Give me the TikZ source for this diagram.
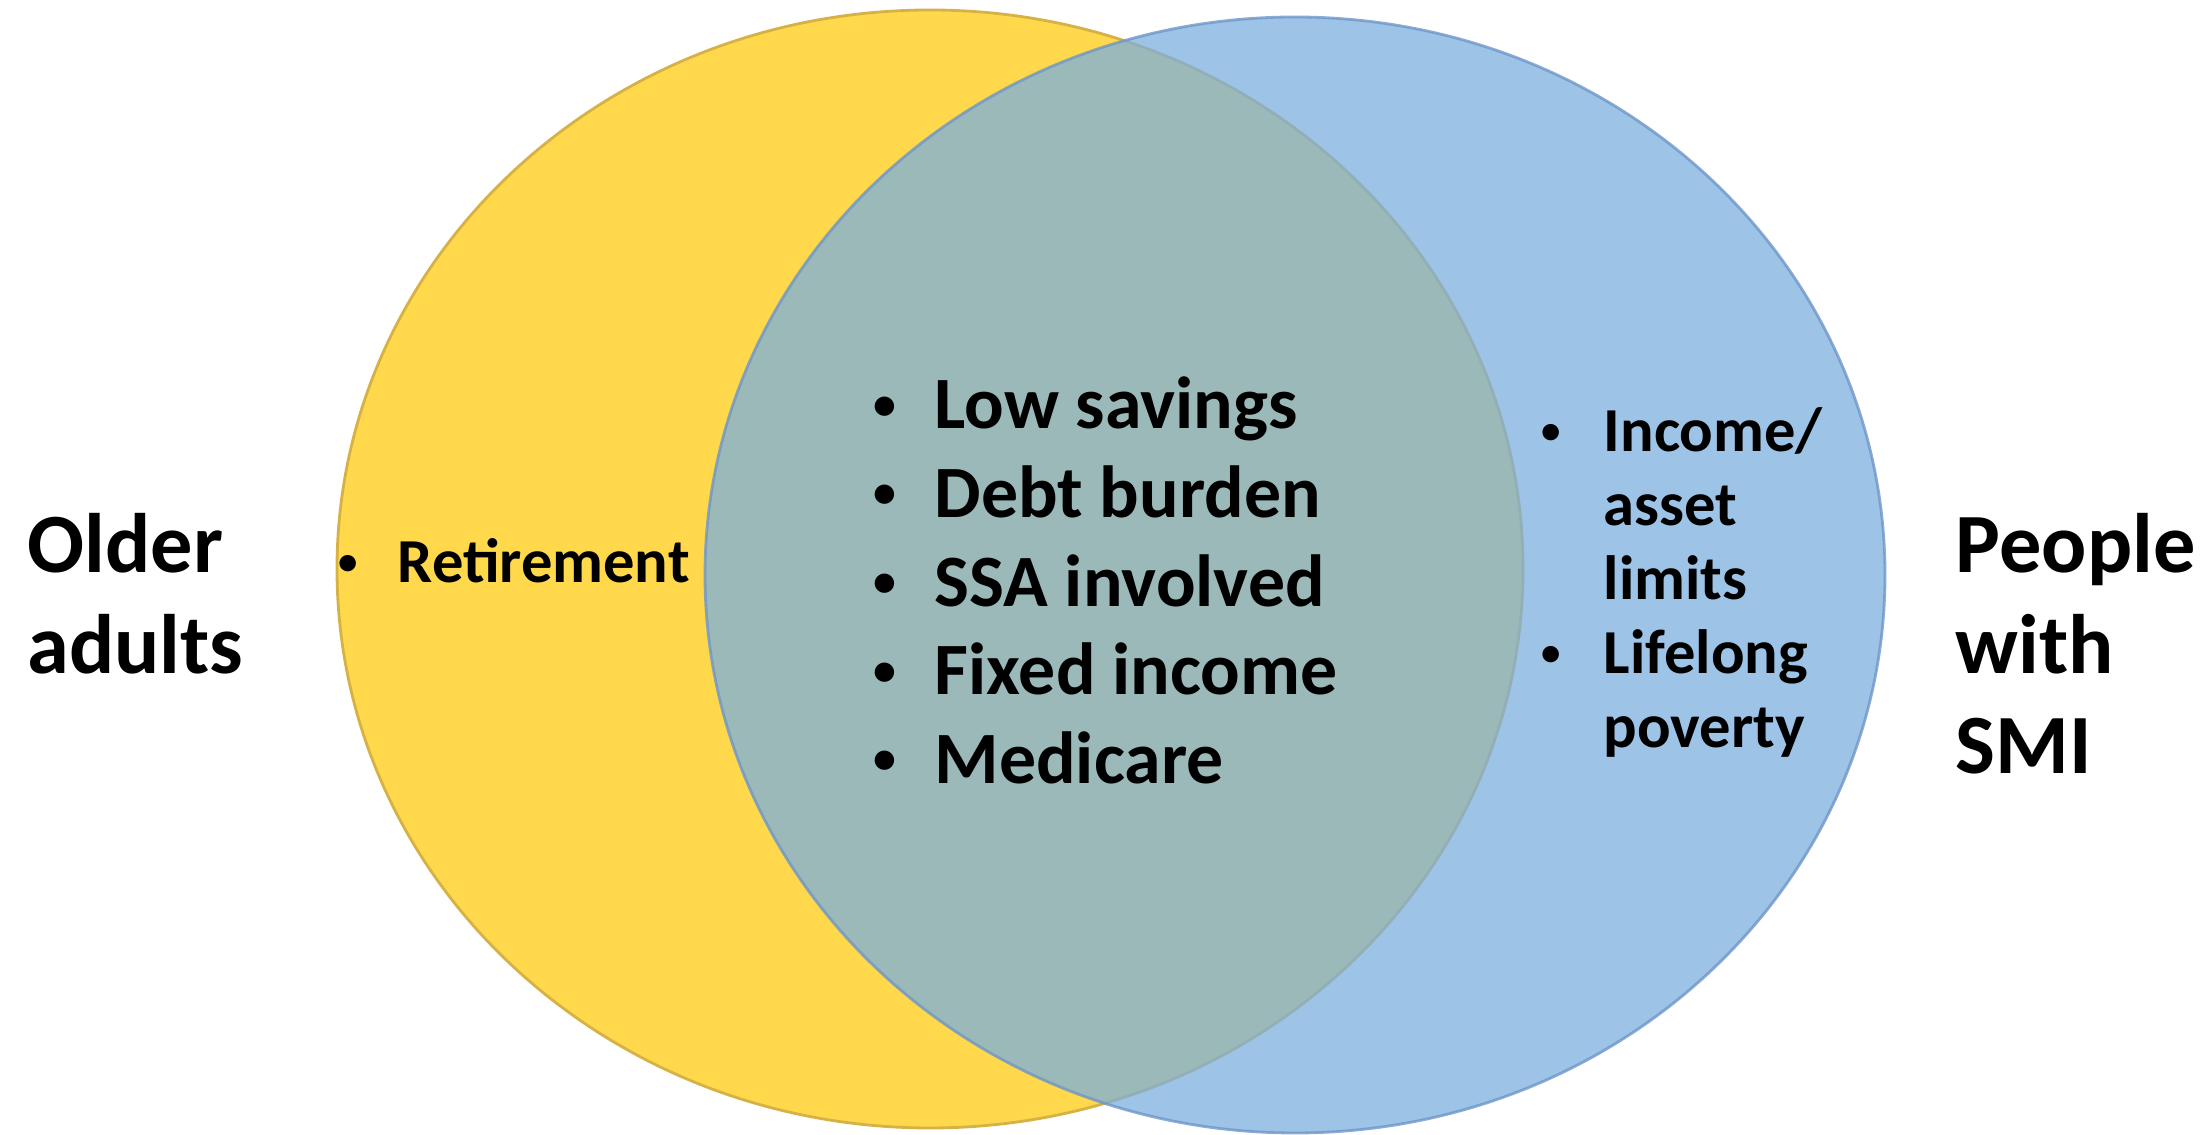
\documentclass[tikz,border=0pt]{standalone}
\usepackage{graphicx}
\usepackage{fontspec}
\setmainfont{Carlito}
\definecolor{oldyellow}{RGB}{255,216,76}
\definecolor{oldedge}{RGB}{214,178,70}
\definecolor{smiblue}{RGB}{124,175,222}
\definecolor{smiedge}{RGB}{110,150,200}
\newcommand{\venbullet}[1]{\llap{\makebox[#1][c]{\raisebox{0.13em}{\scalebox{0.62}{\textbullet}}}}}
\begin{document}
\begin{tikzpicture}[x=1cm, y=1cm,
    settext/.style={inner sep=0pt, anchor=base west, font=\bfseries}]
  \useasboundingbox (0,0) rectangle (22.11,11.35);

  % the two sets
  \filldraw[fill=oldyellow, draw=oldedge, line width=0.8pt] (9.30,5.66) ellipse (5.93 and 5.59);
  \filldraw[fill=smiblue, fill opacity=0.75, draw=smiedge, draw opacity=0.8, line width=0.8pt] (12.95,5.60) ellipse (5.90 and 5.58);

  % set names
  \node[settext] (older) at (0.27,5.62)
    {\fontsize{24}{28.5}\selectfont\begin{tabular}[t]{@{}l@{}}Older\\adults\end{tabular}};
  \node[settext] (people) at (19.55,5.62)
    {\fontsize{24}{28.5}\selectfont\begin{tabular}[t]{@{}l@{}}People\\with\\SMI\end{tabular}};

  % items
  \node[settext] (retire) at (3.97,5.52)
    {\fontsize{17.8}{21}\selectfont\venbullet{1.0cm}Retirement};
  \node[settext] (both) at (9.34,7.06)
    {\fontsize{21}{25.2}\selectfont\begin{tabular}[t]{@{}l@{}}
      \venbullet{1.0cm}Low savings\\
      \venbullet{1.0cm}Debt burden\\
      \venbullet{1.0cm}SSA involved\\
      \venbullet{1.0cm}Fixed income\\
      \venbullet{1.0cm}Medicare
    \end{tabular}};
  \node[settext] (smi) at (16.03,6.83)
    {\fontsize{17.8}{21}\selectfont\begin{tabular}[t]{@{}l@{}}
      \venbullet{1.06cm}Income/\\
      asset\\
      limits\\
      \venbullet{1.06cm}Lifelong\\
      poverty
    \end{tabular}};
\end{tikzpicture}
\end{document}
